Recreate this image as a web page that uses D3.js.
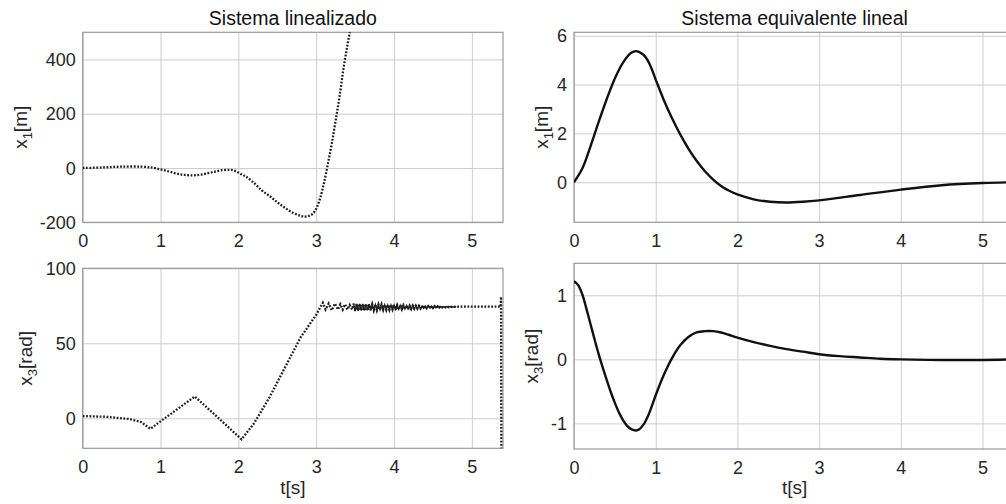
<!DOCTYPE html>
<html><head><meta charset="utf-8">
<script src="https://cdn.jsdelivr.net/npm/d3@7"></script>
<style>
html,body{margin:0;padding:0;background:#fff;}
svg{display:block;font-family:"Liberation Sans",Arial,Helvetica,sans-serif;}
</style></head>
<body>
<svg id="c" width="1006" height="504"></svg>
<script>
// ---- data ----
const xTicks = [0, 1, 2, 3, 4, 5];
const titles = ["Sistema linealizado", "Sistema equivalente lineal"];

// Sistema linealizado, x1 [m]
const tLinX1 = [0,0.25,0.5,0.75,0.9,1.0,1.1,1.2,1.3,1.4,1.5,1.6,1.7,1.8,1.9,1.97,2.05,2.1,2.2,2.3,2.4,2.5,2.6,2.7,2.8,2.85,2.9,2.95,3.0,3.05,3.1,3.15,3.2,3.25,3.3,3.35,3.4,3.45,3.5];
const x1Lin  = [0,2,5,5,1,-5,-12,-20,-25,-27,-25,-20,-13,-8,-7,-12,-25,-32,-55,-82,-103,-126,-147,-165,-176,-179,-177,-170,-150,-112,-55,15,90,175,263,365,450,530,620];
const yTicksLinX1 = [-200, 0, 200, 400];

// Sistema linealizado, x3 [rad]
const tLinX3 = [0,0.3,0.6,0.75,0.87,1.0,1.2,1.44,1.6,1.8,2.04,2.2,2.4,2.6,2.8,3.0,3.085,
  3.12,3.16,3.2,3.24,3.28,3.31,3.34,3.37,3.40,3.43,3.46,
  3.48,3.50,3.52,3.54,3.56,3.58,3.60,3.62,3.64,3.66,3.68,3.70,3.72,3.74,3.76,3.78,3.80,3.82,3.84,3.86,
  3.88,3.90,3.92,3.94,3.96,3.98,4.00,4.02,4.04,4.06,4.08,4.10,4.12,4.14,4.16,4.18,4.20,4.22,4.24,4.26,
  4.28,4.30,4.32,4.34,4.36,4.38,4.40,4.42,4.44,4.46,4.48,4.50,4.52,4.54,4.56,4.58,4.60,4.62,4.64,4.66,
  4.68,4.70,4.72,4.74,4.76,4.78,4.80,
  4.85,5.37,5.375,5.38];
const x3Lin  = [1.5,1,-0.5,-2.5,-7,-2,5.5,14.5,7,-2.5,-14,-3.5,14,34,54,69,77,
  72.5,76.5,72,76.5,72.5,76,72.5,76,72.5,75.5,72.5,
  76.4,71.6,76.3,71.7,76.3,71.8,76.2,71.8,76.1,71.9,76.1,72.0,76.0,72.1,75.9,72.1,75.8,72.2,75.8,72.3,
  75.7,72.3,75.6,72.4,75.6,72.5,75.5,72.5,75.4,72.6,75.4,72.7,75.3,72.8,75.2,72.8,75.1,72.9,75.1,73.0,
  75.0,73.1,75.0,73.2,74.9,73.3,74.9,73.4,74.8,73.5,74.8,73.6,74.8,73.7,74.7,73.8,74.7,73.9,74.6,74.0,
  74.6,74.1,74.6,74.2,74.5,74.3,74.5,
  74.4,74.4,81,-60];
const yTicksLinX3 = [0, 50, 100];

// Sistema equivalente lineal, x1 [m]
const tEqX1 = [0,0.1,0.2,0.3,0.4,0.5,0.6,0.7,0.76,0.85,0.9,0.95,1.0,1.05,1.1,1.2,1.3,1.4,1.5,1.6,1.7,1.8,1.9,2.0,2.2,2.4,2.6,2.8,3.0,3.5,4.0,4.5,5.0,5.4];
const x1Eq  = [0,0.55,1.45,2.45,3.4,4.25,4.9,5.3,5.37,5.22,5.0,4.65,4.2,3.78,3.36,2.62,1.96,1.38,0.88,0.46,0.12,-0.15,-0.35,-0.5,-0.7,-0.8,-0.83,-0.8,-0.74,-0.52,-0.3,-0.12,-0.03,0.0];
const yTicksEqX1 = [0, 2, 4, 6];

// Sistema equivalente lineal, x3 [rad]
const tEqX3 = [0,0.05,0.1,0.15,0.2,0.25,0.3,0.35,0.4,0.45,0.5,0.55,0.6,0.65,0.7,0.76,0.8,0.85,0.9,0.95,1.0,1.1,1.2,1.3,1.4,1.5,1.6,1.7,1.8,1.9,2.0,2.2,2.4,2.6,2.8,3.0,3.25,3.5,3.75,4.0,4.5,5.0,5.4];
const x3Eq  = [1.22,1.16,1.02,0.8,0.56,0.32,0.09,-0.12,-0.32,-0.51,-0.68,-0.83,-0.95,-1.04,-1.09,-1.11,-1.09,-1.02,-0.9,-0.74,-0.56,-0.24,0.02,0.22,0.35,0.42,0.44,0.44,0.42,0.38,0.34,0.27,0.21,0.16,0.12,0.08,0.05,0.03,0.01,0.0,-0.01,-0.01,0.0];
const yTicksEqX3 = [-1, 0, 1];

// ---- layout ----
const svg = d3.select("#c");
const smooth = d3.curveCatmullRom.alpha(0.5);
const panels = [
  {t: tLinX1, v: x1Lin, yt: yTicksLinX1, xr:[82.7,503], yr:[222.3,32.3], yd:[-200,500], dotted:true, lab:["1","[m]"], labX:27, title:titles[0], curve:smooth},
  {t: tEqX1, v: x1Eq, yt: yTicksEqX1, xr:[574,1015.2], yr:[222.3,32.3], yd:[-1.64,6.14], dotted:false, lab:["1","[m]"], labX:548, title:titles[1], curve:smooth},
  {t: tLinX3, v: x3Lin, yt: yTicksLinX3, xr:[82.7,503], yr:[448.3,268.3], yd:[-20,100], dotted:true, lab:["3","[rad]"], labX:32, xlab:true, curve:d3.curveLinear, band:[3.47, 4.8]},
  {t: tEqX3, v: x3Eq, yt: yTicksEqX3, xr:[574,1015.2], yr:[449,263.3], yd:[-1.4,1.5], dotted:false, lab:["3","[rad]"], labX:538, xlab:true, curve:smooth}
];

const txtCol = "#262626";
panels.forEach((p, i) => {
  const x = d3.scaleLinear().domain([0, 5.4]).range(p.xr);
  const y = d3.scaleLinear().domain(p.yd).range(p.yr);
  const w = p.xr[1]-p.xr[0], h = p.yr[0]-p.yr[1];
  const g = svg.append("g");

  // grid
  const gx = g.append("g").attr("transform", `translate(0,${p.yr[0]})`)
    .call(d3.axisBottom(x).tickValues(xTicks).tickSize(-h).tickFormat(""));
  const gy = g.append("g").attr("transform", `translate(${p.xr[0]},0)`)
    .call(d3.axisLeft(y).tickValues(p.yt).tickSize(-w).tickFormat(""));
  [gx, gy].forEach(a => { a.select(".domain").remove(); a.selectAll("line").attr("stroke", "#cdcdcd").attr("stroke-width", 1); });

  // tick labels
  const lx = g.append("g").attr("transform", `translate(0,${p.yr[0]})`)
    .call(d3.axisBottom(x).tickValues(xTicks).tickSize(0).tickPadding(12).tickFormat(d3.format("d")));
  const ly = g.append("g").attr("transform", `translate(${p.xr[0]},0)`)
    .call(d3.axisLeft(y).tickValues(p.yt).tickSize(0).tickPadding(7).tickFormat(d => String(d)));
  [lx, ly].forEach(a => {
    a.select(".domain").remove();
    a.selectAll("text").attr("font-size", 18).attr("fill", txtCol).attr("font-family", '"Liberation Sans",Arial,sans-serif');
  });
  ly.selectAll("text").attr("dy", "0.34em");

  // frame
  g.append("rect").attr("x", p.xr[0]).attr("y", p.yr[1]).attr("width", w).attr("height", h)
    .attr("fill", "none").attr("stroke", "#999").attr("stroke-width", 1.2);

  // clip + line
  const cid = "clip" + i;
  svg.append("clipPath").attr("id", cid).append("rect")
    .attr("x", p.xr[0]).attr("y", p.yr[1]).attr("width", w).attr("height", h);
  const pts = p.t.map((t, k) => [t, p.v[k]]);
  const line = d3.line().x(d => x(d[0])).y(d => y(d[1])).curve(p.curve);
  const path = g.append("path").attr("clip-path", `url(#${cid})`).datum(pts).attr("d", line)
    .attr("fill", "none");
  if (p.dotted) {
    path.attr("stroke", "#1c1c1c").attr("stroke-width", 2.3).attr("stroke-dasharray", "1.8,1.6");
  } else {
    path.attr("stroke", "#111").attr("stroke-width", 2.4).attr("stroke-linejoin", "round");
  }
  if (p.band) {
    // dense oscillation: overlapping dots read as a dark band
    g.append("path").attr("clip-path", `url(#${cid})`)
      .datum(pts.filter(d => d[0] >= p.band[0] && d[0] <= p.band[1]))
      .attr("d", line).attr("fill", "none").attr("stroke", "#1c1c1c").attr("stroke-width", 1.3);
  }

  // y label
  const cy = (p.yr[0]+p.yr[1])/2;
  const yl = g.append("text").attr("transform", `translate(${p.labX},${cy}) rotate(-90)`)
    .attr("text-anchor", "middle").attr("font-size", 19).attr("fill", txtCol);
  yl.append("tspan").text("x");
  yl.append("tspan").attr("dy", 5).attr("font-size", 13).text(p.lab[0]);
  yl.append("tspan").attr("dy", -5).text(p.lab[1]);

  if (p.title) {
    g.append("text").attr("x", (p.xr[0]+p.xr[1])/2).attr("y", 25).attr("text-anchor", "middle")
      .attr("font-size", 19.5).attr("fill", "#111").text(p.title);
  }
  if (p.xlab) {
    g.append("text").attr("x", (p.xr[0]+p.xr[1])/2).attr("y", 494).attr("text-anchor", "middle")
      .attr("font-size", 19).attr("fill", txtCol).text("t[s]");
  }
});
</script>
</body></html>
